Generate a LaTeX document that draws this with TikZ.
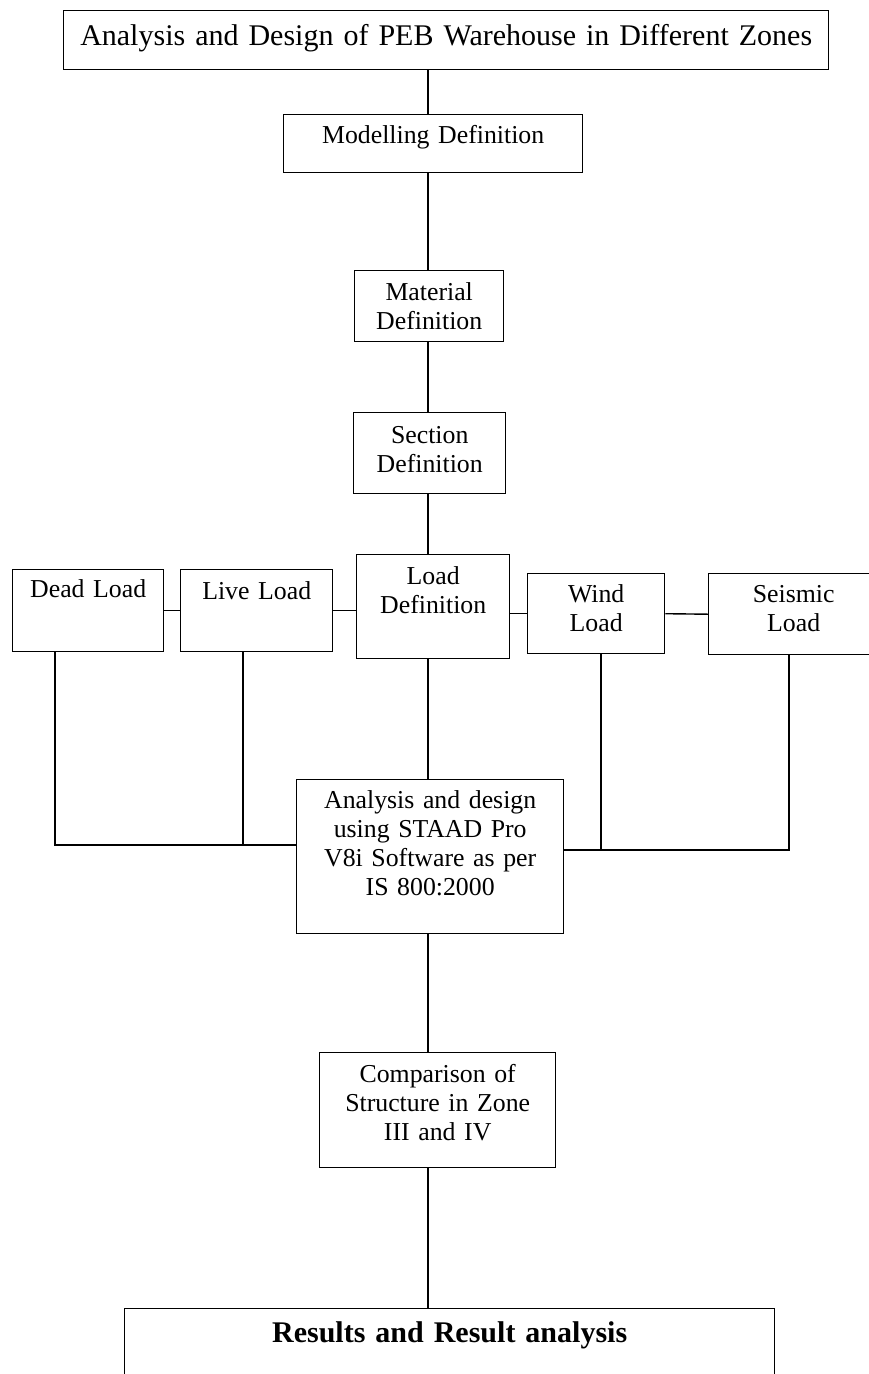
\documentclass[tikz,border=0pt]{standalone}
\usepackage{fontspec}
\setmainfont{Liberation Serif}
\begin{document}
\begin{tikzpicture}[x=1pt,y=-1pt,line width=1.4pt,
  font=\fontsize{25.8}{29}\selectfont,
  box/.style={draw,inner sep=0pt,align=center,anchor=north west},
  tb/.style 2 args={text height=#1pt,text depth=#2pt}]
\useasboundingbox (0,0) rectangle (868,1374);

\node[box,tb={35}{24},text width=765pt,font=\fontsize{30}{34}\selectfont] (title) at (63,10) {Analysis and Design of PEB Warehouse in Different Zones};
\node[box,tb={29}{29},text width=299pt] (model) at (283,114) {Modelling Definition};
\node[box,tb={30}{41},text width=149pt] (mat) at (354,270) {Material\\Definition};
\node[box,tb={31}{50},text width=152pt] (sec) at (353,412) {Section\\Definition};
\node[box,tb={30}{74},text width=153pt] (load) at (356,554) {Load\\Definition};
\node[box,tb={28}{54},text width=151pt] (dead) at (12,569) {Dead Load};
\node[box,tb={30}{52},text width=152pt] (live) at (180,569) {Live Load};
\node[box,tb={29}{51},text width=137pt] (wind) at (527,573) {Wind\\Load};
\node[box,tb={29}{52},text width=170pt] (seis) at (708,573) {Seismic\\Load};
\node[box,tb={29}{125},text width=267pt] (anl) at (296,779) {Analysis and design\\using STAAD Pro\\V8i Software as per\\IS 800:2000};
\node[box,tb={30}{85},text width=236pt] (comp) at (319,1052) {Comparison of\\Structure in Zone\\III and IV};
\node[box,tb={34}{80},text width=650pt,font=\fontsize{30}{34}\selectfont\bfseries] (res) at (124,1308) {Results and Result analysis};

% main line
\coordinate (spine) at (428,0);
\draw (title.south -| spine) -- (model.north -| spine);
\draw (model.south -| spine) -- (mat.north -| spine);
\draw (mat.south -| spine) -- (sec.north -| spine);
\draw (sec.south -| spine) -- (load.north -| spine);
\draw (load.south -| spine) -- (anl.north -| spine);
\draw (anl.south -| spine) -- (comp.north -| spine);
\draw (comp.south -| spine) -- (res.north -| spine);

% loads
\draw (dead.east) -- (live.west);
\draw (live.east) -- (load.west |- live.east);
\draw (load.east |- wind.west) -- (wind.west);
\draw (wind.east) -- (seis.west);

\coordinate (jl) at (55,845);
\coordinate (ll) at (243,845);
\coordinate (wr) at (601,850);
\coordinate (jr) at (789,850);
\draw (dead.south -| jl) -- (jl) -- (anl.west |- jl);
\draw (live.south -| ll) -- (ll);
\draw (wind.south -| wr) -- (wr);
\draw (seis.south -| jr) -- (jr) -- (anl.east |- jr);
\end{tikzpicture}
\end{document}
